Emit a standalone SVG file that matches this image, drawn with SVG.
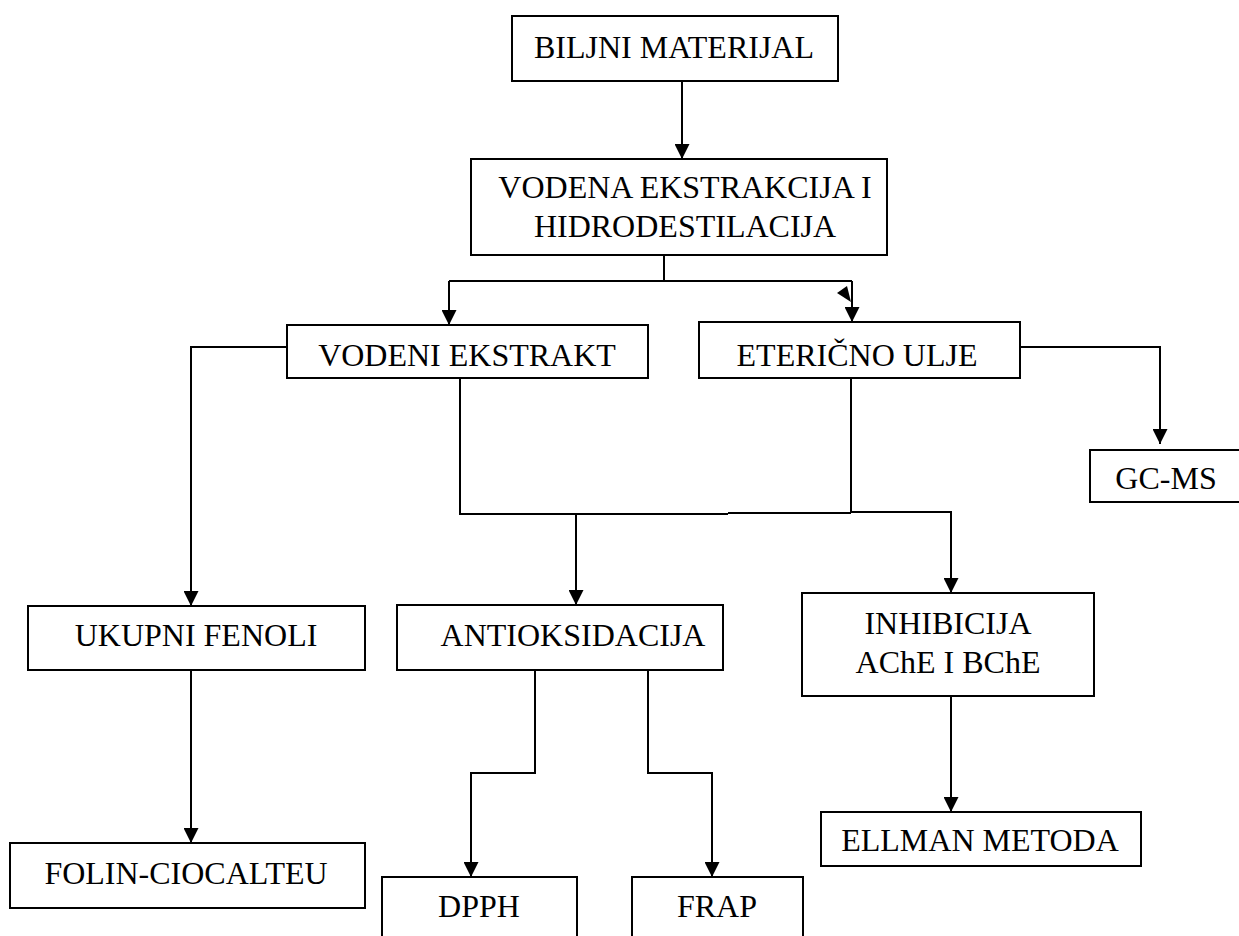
<svg xmlns="http://www.w3.org/2000/svg" width="1239" height="936" viewBox="0 0 1239 936">
<style>
.box{fill:#fff;stroke:#000;stroke-width:2}
.t{font-family:"Liberation Serif","Times New Roman",serif;font-size:32px;fill:#000;text-anchor:middle}
.c{fill:none;stroke:#000;stroke-width:2}
.a{fill:none;stroke:#000;stroke-width:2;marker-end:url(#arr)}
</style>
<defs>
<marker id="arr" markerUnits="userSpaceOnUse" markerWidth="15" markerHeight="15" refX="15" refY="7.5" orient="auto">
<path d="M0,0 L15,7.5 L0,15 z" fill="#000"/>
</marker>
</defs>
<rect width="1239" height="936" fill="#fff"/>
<g id="connectors">
<path class="a" d="M682,81 V159"/>
<path class="c" d="M664,255 V281 M449,281 H852"/>
<path class="a" d="M449,281 V325"/>
<path class="a" d="M852,281 V322"/>
<polygon points="837,293 847,286 851,302" fill="#000"/>
<path class="a" d="M287,347 H191 V606"/>
<path class="a" d="M1020,347 H1160 V444"/>
<path class="c" d="M460,378 V514 H728 M728,513 H851 M851,378 V513"/>
<path class="a" d="M851,512 H951 V593"/>
<path class="a" d="M576,514 V605"/>
<path class="a" d="M191,670 V843"/>
<path class="a" d="M535,670 V773 H471 V877"/>
<path class="a" d="M648,670 V773 H712 V877"/>
<path class="a" d="M951,696 V812"/>
</g>
<g id="n1"><rect class="box" x="512" y="16" width="326" height="65"/><text class="t" x="674" y="58">BILJNI MATERIJAL</text></g>
<g id="n2"><rect class="box" x="471" y="159" width="416" height="96"/><text class="t" x="685" y="198">VODENA EKSTRAKCIJA I</text><text class="t" x="685" y="237">HIDRODESTILACIJA</text></g>
<g id="n3"><rect class="box" x="287" y="325" width="361" height="53"/><text class="t" x="467" y="366">VODENI EKSTRAKT</text></g>
<g id="n4"><rect class="box" x="699" y="322" width="321" height="56"/><text class="t" x="857" y="366">ETERIČNO ULJE</text></g>
<g id="n5"><rect class="box" x="1090" y="450" width="160" height="52"/><text class="t" x="1166" y="489">GC-MS</text></g>
<g id="n6"><rect class="box" x="28" y="606" width="337" height="64"/><text class="t" x="196" y="646">UKUPNI FENOLI</text></g>
<g id="n7"><rect class="box" x="397" y="605" width="326" height="65"/><text class="t" x="573" y="646">ANTIOKSIDACIJA</text></g>
<g id="n8"><rect class="box" x="802" y="593" width="292" height="103"/><text class="t" x="948" y="634">INHIBICIJA</text><text class="t" x="948" y="673">AChE I BChE</text></g>
<g id="n9"><rect class="box" x="10" y="843" width="355" height="65"/><text class="t" x="186" y="884">FOLIN-CIOCALTEU</text></g>
<g id="n10"><rect class="box" x="382" y="877" width="195" height="70"/><text class="t" x="479" y="917">DPPH</text></g>
<g id="n11"><rect class="box" x="632" y="877" width="171" height="70"/><text class="t" x="717" y="917">FRAP</text></g>
<g id="n12"><rect class="box" x="821" y="812" width="320" height="54"/><text class="t" x="980" y="851">ELLMAN METODA</text></g>
</svg>
